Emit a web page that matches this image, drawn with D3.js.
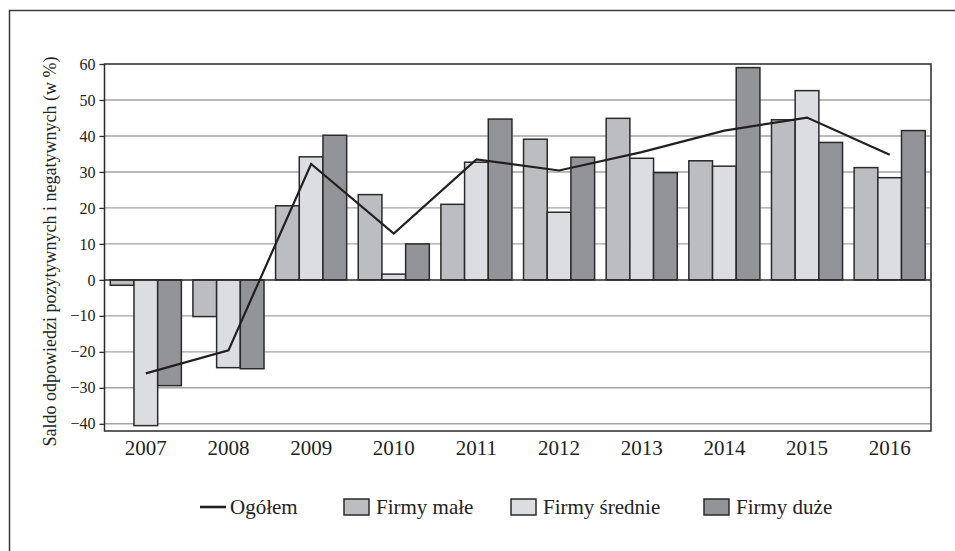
<!DOCTYPE html>
<html>
<head>
<meta charset="utf-8">
<script src="https://cdn.jsdelivr.net/npm/d3@7"></script>
<style>
  html, body { margin: 0; padding: 0; background: #fff; }
  svg { display: block; }
  svg text { font-family: "Liberation Serif", "Times New Roman", "DejaVu Serif", serif; }
</style>
</head>
<body>
<svg id="chart" width="955" height="551"></svg>
<script>
// Survey balance by firm size, 2007–2016
const years = ["2007", "2008", "2009", "2010", "2011", "2012", "2013", "2014", "2015", "2016"];
const ogolem = [-26.0, -19.6, 32.2, 12.9, 33.5, 30.4, 35.5, 41.5, 45.1, 34.8];
const firmyMale = [-1.5, -10.2, 20.6, 23.7, 21.0, 39.1, 44.9, 33.1, 44.5, 31.2];
const firmySrednie = [-40.5, -24.4, 34.2, 1.6, 32.7, 18.8, 33.8, 31.6, 52.6, 28.4];
const firmyDuze = [-29.4, -24.7, 40.2, 10.0, 44.7, 34.1, 29.8, 59.0, 38.2, 41.5];
const yTicks = [-40, -30, -20, -10, 0, 10, 20, 30, 40, 50, 60];

const seriesNames = ["Firmy małe", "Firmy średnie", "Firmy duże"];
const seriesValues = [firmyMale, firmySrednie, firmyDuze];
const seriesColors = ["#bcbdc1", "#dcdde0", "#939498"];
const lineName = "Ogółem";

const svg = d3.select("#chart");
const plot = { left: 104.5, right: 931, top: 64, bottom: 431 };

// outer frame
svg.append("rect")
  .attr("x", 9.5).attr("y", 10.5)
  .attr("width", 960).attr("height", 560)
  .attr("fill", "none").attr("stroke", "#3a3a3a").attr("stroke-width", 1.5);

const y = d3.scaleLinear().domain([-42, 60]).range([plot.bottom, plot.top]);
const x0 = d3.scaleBand().domain(years).range([plot.left, plot.right])
  .paddingInner(0.14).paddingOuter(0.07);
const x1 = d3.scaleBand().domain(seriesNames).range([0, x0.bandwidth()]);

// horizontal gridlines
svg.append("g").selectAll("line")
  .data(yTicks.filter(t => t !== 0 && t !== 60))
  .join("line")
  .attr("x1", plot.left).attr("x2", plot.right)
  .attr("y1", d => y(d)).attr("y2", d => y(d))
  .attr("stroke", "#a3a3a3").attr("stroke-width", 1.4);

// grouped bars
const rows = years.map((yr, i) => ({
  year: yr,
  bars: seriesNames.map((s, j) => ({ key: s, value: seriesValues[j][i], color: seriesColors[j] }))
}));

svg.append("g").selectAll("g")
  .data(rows)
  .join("g")
  .attr("transform", d => `translate(${x0(d.year)},0)`)
  .selectAll("rect")
  .data(d => d.bars)
  .join("rect")
  .attr("x", d => x1(d.key))
  .attr("width", x1.bandwidth())
  .attr("y", d => y(Math.max(0, d.value)))
  .attr("height", d => Math.abs(y(d.value) - y(0)))
  .attr("fill", d => d.color)
  .attr("stroke", "#2a2a2a").attr("stroke-width", 1.5);

// zero line
svg.append("line")
  .attr("x1", plot.left).attr("x2", plot.right)
  .attr("y1", y(0)).attr("y2", y(0))
  .attr("stroke", "#2a2a2a").attr("stroke-width", 1.5);

// total line
const lineGen = d3.line()
  .x((d, i) => x0(years[i]) + x0.bandwidth() / 2)
  .y(d => y(d));
svg.append("path")
  .datum(ogolem)
  .attr("d", lineGen)
  .attr("fill", "none").attr("stroke", "#231f20").attr("stroke-width", 2.2)
  .attr("stroke-linejoin", "miter");

// plot frame
svg.append("rect")
  .attr("x", plot.left).attr("y", plot.top)
  .attr("width", plot.right - plot.left).attr("height", plot.bottom - plot.top)
  .attr("fill", "none").attr("stroke", "#2a2a2a").attr("stroke-width", 1.5);

// y axis
const yAxis = svg.append("g")
  .attr("transform", `translate(${plot.left},0)`)
  .call(d3.axisLeft(y).tickValues(yTicks).tickSize(5).tickPadding(4).tickSizeOuter(0));
yAxis.attr("font-family", null);
yAxis.select(".domain").remove();
yAxis.selectAll(".tick line").attr("stroke", "#2a2a2a").attr("stroke-width", 1.3);
yAxis.selectAll(".tick text")
  .attr("font-size", 16).attr("fill", "#222");

// x axis
const xAxis = svg.append("g")
  .attr("transform", `translate(0,${plot.bottom})`)
  .call(d3.axisBottom(x0).tickSize(0).tickPadding(9));
xAxis.attr("font-family", null);
xAxis.select(".domain").remove();
xAxis.selectAll(".tick text")
  .attr("font-size", 21).attr("fill", "#222");

// y axis title
svg.append("text")
  .attr("transform", `translate(56,${(plot.top + plot.bottom) / 2 + 4}) rotate(-90)`)
  .attr("text-anchor", "middle")
  .attr("font-size", 18).attr("fill", "#222")
  .text("Saldo odpowiedzi pozytywnych i negatywnych (w %)");

// legend
const legendY = 507;
const legend = svg.append("g");
legend.append("line")
  .attr("x1", 200).attr("x2", 226).attr("y1", legendY).attr("y2", legendY)
  .attr("stroke", "#231f20").attr("stroke-width", 2.6);
legend.append("text")
  .attr("x", 230).attr("y", legendY + 7)
  .attr("font-size", 21).attr("fill", "#222")
  .text(lineName);

const legendX = [344, 511, 704];
seriesNames.forEach((s, j) => {
  legend.append("rect")
    .attr("x", legendX[j]).attr("y", legendY - 8)
    .attr("width", 25).attr("height", 16)
    .attr("fill", seriesColors[j]).attr("stroke", "#2a2a2a").attr("stroke-width", 1.5);
  legend.append("text")
    .attr("x", legendX[j] + 32).attr("y", legendY + 7)
    .attr("font-size", 21).attr("fill", "#222")
    .text(s);
});
</script>
</body>
</html>
